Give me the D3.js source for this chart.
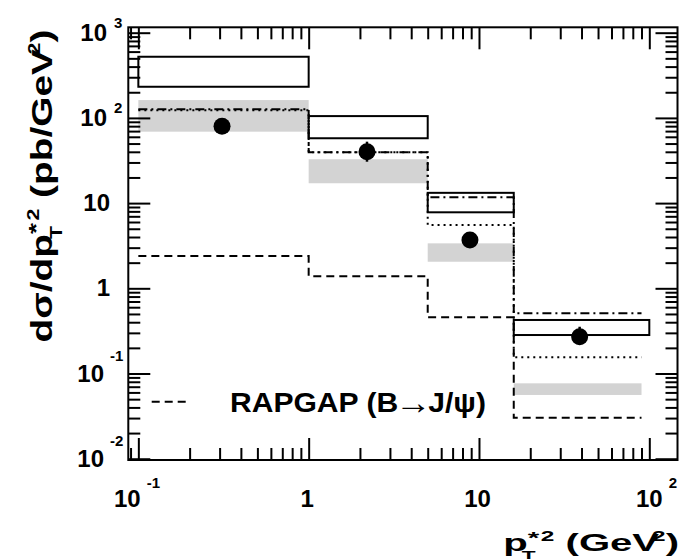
<!DOCTYPE html>
<html>
<head>
<meta charset="utf-8">
<script src="https://cdn.jsdelivr.net/npm/d3@7"></script>
<style>
  body { margin: 0; background: #fff; }
  svg { display: block; background: #fff; }
  text { font-family: "Liberation Sans", Arial, Helvetica, sans-serif; font-weight: bold; fill: #000; }
</style>
</head>
<body>
<svg id="chart" width="683" height="559"></svg>
<script>
// Bin edges in p_T*^2 (GeV^2)
const binEdges = [0.1, 1, 5, 16, 100];
const modelEdges = [0.1, 1, 5, 16, 90];

// Measured cross sections (pb/GeV^2)
const dataX = [0.31, 2.2, 8.85, 39];
const dataY = [80, 40, 3.7, 0.27];
const dataErrUp = [5, 12.6, 0.3, 0.084];
const dataErrDown = [5, 9.4, 0.3, 0.05];

// Open boxes (prediction band)
const boxLow = [232, 57.7, 7.8, 0.283];
const boxHigh = [522, 105, 13.2, 0.425];

// Grey shaded band
const bandLow = [68.9, 17.1, 2.05, 0.056];
const bandHigh = [162, 32.7, 3.37, 0.0767];

// Step-histogram predictions
const dashDotModel = [126, 39.5, 11.7, 0.509];
const dottedModel = [123, 39.5, 5.53, 0.155];
const rapgapB = [2.39, 1.39, 0.457, 0.0303];

// Axis tick labels
const xTickValues = [0.1, 1, 10, 100];
const xTickBase = ["10", "1", "10", "10"];
const xTickExp = ["-1", "", "", "2"];
const yTickValues = [0.01, 0.1, 1, 10, 100, 1000];
const yTickBase = ["10", "10", "1", "10", "10", "10"];
const yTickExp = ["-2", "-1", "", "", "2", "3"];

const legendLabel = ["RAPGAP (B", "\u2192", "J/\u03C8)"];

// ---------------------------------------------------------------
const svg = d3.select("#chart");
const L = 128.3, R = 677.5, T = 27.3, B = 460;

const x = d3.scaleLog().domain([0.0873, 146.4]).range([L, R]);
const y = d3.scaleLog().domain([0.00966, 1157]).range([B, T]);

const bandGrey = "#d3d3d3";

// grey band
svg.append("g").selectAll("rect").data(bandLow).join("rect")
  .attr("x", (d, i) => x(modelEdges[i]))
  .attr("width", (d, i) => x(modelEdges[i + 1]) - x(modelEdges[i]))
  .attr("y", (d, i) => y(bandHigh[i]))
  .attr("height", (d, i) => y(bandLow[i]) - y(bandHigh[i]))
  .attr("fill", bandGrey);

// step histograms
function stepPoints(vals, edges) {
  const pts = vals.map((v, i) => [edges[i], v]);
  pts.push([edges[edges.length - 1], vals[vals.length - 1]]);
  return pts;
}
const stepLine = d3.line().x(d => x(d[0])).y(d => y(d[1])).curve(d3.curveStepAfter);

const models = [
  { vals: rapgapB, dash: "8,5" },
  { vals: dottedModel, dash: "2,4" },
  { vals: dashDotModel, dash: "9,4,2,4" }
];
svg.append("g").selectAll("path").data(models).join("path")
  .attr("d", m => stepLine(stepPoints(m.vals, modelEdges)))
  .attr("fill", "none")
  .attr("stroke", "#000")
  .attr("stroke-width", 2)
  .attr("stroke-dasharray", m => m.dash);

// open boxes
svg.append("g").selectAll("rect").data(boxLow).join("rect")
  .attr("x", (d, i) => x(binEdges[i]))
  .attr("width", (d, i) => x(binEdges[i + 1]) - x(binEdges[i]))
  .attr("y", (d, i) => y(boxHigh[i]))
  .attr("height", (d, i) => y(boxLow[i]) - y(boxHigh[i]))
  .attr("fill", "none")
  .attr("stroke", "#000")
  .attr("stroke-width", 2);

// data points with error bars
const pts = svg.append("g");
pts.selectAll("line").data(dataY).join("line")
  .attr("x1", (d, i) => x(dataX[i])).attr("x2", (d, i) => x(dataX[i]))
  .attr("y1", (d, i) => y(d + dataErrUp[i]))
  .attr("y2", (d, i) => y(d - dataErrDown[i]))
  .attr("stroke", "#000").attr("stroke-width", 2.5);
pts.selectAll("circle").data(dataY).join("circle")
  .attr("cx", (d, i) => x(dataX[i]))
  .attr("cy", d => y(d))
  .attr("r", 8.5)
  .attr("fill", "#000");

// ---------------- axes (ticks inside the frame on all sides) ----------------
function logTicks(domain, major) {
  const out = [];
  const lo = Math.floor(Math.log10(domain[0])), hi = Math.ceil(Math.log10(domain[1]));
  for (let k = lo; k <= hi; k++) {
    for (let m = 1; m <= 9; m++) {
      const v = m * Math.pow(10, k);
      if (v >= domain[0] && v <= domain[1] && ((m === 1) === major)) out.push(v);
    }
  }
  return out;
}
const MAJ = 22, MIN = 12;
function drawAxis(axisFn, scale, transform) {
  [true, false].forEach(isMajor => {
    const g = svg.append("g").attr("transform", transform)
      .call(axisFn(scale)
        .tickValues(logTicks(scale.domain(), isMajor))
        .tickSizeInner(-(isMajor ? MAJ : MIN))
        .tickSizeOuter(0)
        .tickFormat(""));
    g.select(".domain").remove();
    g.selectAll("line").attr("stroke", "#000").attr("stroke-width", 2);
  });
}
drawAxis(d3.axisBottom, x, `translate(0,${B})`);
drawAxis(d3.axisTop, x, `translate(0,${T})`);
drawAxis(d3.axisLeft, y, `translate(${L},0)`);
drawAxis(d3.axisRight, y, `translate(${R},0)`);

// frame
svg.append("rect")
  .attr("x", L).attr("y", T).attr("width", R - L).attr("height", B - T)
  .attr("fill", "none").attr("stroke", "#000").attr("stroke-width", 2);

// x tick labels
const BASE_FS = 24, EXP_FS = 15;
xTickValues.forEach((v, i) => {
  const neg = xTickExp[i].startsWith("-");
  const cx = x(v) + (neg ? -11 : (xTickExp[i] ? 0 : -1.5));
  const t = svg.append("text")
    .attr("x", cx).attr("y", 507)
    .attr("text-anchor", "middle")
    .attr("font-size", BASE_FS)
    .text(xTickBase[i]);
  if (xTickExp[i]) {
    const w = t.node().getComputedTextLength();
    svg.append("text")
      .attr("x", cx + w / 2 + 6).attr("y", 488)
      .attr("font-size", EXP_FS)
      .text(xTickExp[i]);
  }
});

// y tick labels
yTickValues.forEach((v, i) => {
  const ty = y(v);
  const exp = yTickExp[i];
  const neg = exp.startsWith("-");
  const baseRight = exp ? (neg ? 104 : 107) : 110;
  svg.append("text")
    .attr("x", baseRight).attr("y", ty + 8)
    .attr("text-anchor", "end")
    .attr("font-size", BASE_FS)
    .text(yTickBase[i]);
  if (exp) {
    svg.append("text")
      .attr("x", baseRight + (neg ? 6 : 7)).attr("y", ty + (neg ? -13 : -5))
      .attr("font-size", EXP_FS)
      .text(exp);
  }
});

// x axis title: p_T*^2 (GeV^2)
const xtG = svg.append("g");
const xt = xtG.append("text")
  .attr("text-anchor", "end")
  .attr("font-size", 23);
xt.append("tspan").text("p");
xt.append("tspan").attr("dy", -7).attr("font-size", 17).text("*");
xt.append("tspan").attr("dx", -10).attr("dy", 16).attr("font-size", 13).text("T");
xt.append("tspan").attr("dx", 3).attr("dy", -19).attr("font-size", 14).text("2");
xt.append("tspan").attr("dy", 10).text(" (GeV");
xt.append("tspan").attr("dx", -4).attr("dy", -10).attr("font-size", 14).text("2");
xt.append("tspan").attr("dy", 10).text(")");
{
  const w = xt.node().getBBox().width;
  xtG.attr("transform", `translate(679,551) scale(${176 / w},1)`);
}

// y axis title: dsigma/dp_T*^2 (pb/GeV^2)
const ytG = svg.append("g");
const yt = ytG.append("text")
  .attr("text-anchor", "middle")
  .attr("font-size", 29);
yt.append("tspan").text("d\u03C3/dp");
yt.append("tspan").attr("dy", -9).attr("font-size", 21).text("*");
yt.append("tspan").attr("dx", -12).attr("dy", 19).attr("font-size", 16).text("T");
yt.append("tspan").attr("dx", 4).attr("dy", -23).attr("font-size", 16).text("2");
yt.append("tspan").attr("dy", 13).text(" (pb/GeV");
yt.append("tspan").attr("dx", -4).attr("dy", -12).attr("font-size", 16).text("2");
yt.append("tspan").attr("dy", 12).text(")");
{
  const w = yt.node().getBBox().width;
  ytG.attr("transform", `translate(52,186) rotate(-90) scale(${313 / w},1)`);
}

// legend
svg.append("line")
  .attr("x1", 151.7).attr("x2", 188.3)
  .attr("y1", 401.7).attr("y2", 401.7)
  .attr("stroke", "#000").attr("stroke-width", 2)
  .attr("stroke-dasharray", "8,5");
const lgG = svg.append("g");
const lg = lgG.append("text").attr("font-size", 28);
lg.append("tspan").text(legendLabel[0]);
lg.append("tspan").attr("font-size", 34).attr("dx", -3).attr("dy", 2).text(legendLabel[1]);
lg.append("tspan").attr("dx", -3).attr("dy", -2).text(legendLabel[2]);
{
  const w = lg.node().getBBox().width;
  lgG.attr("transform", `translate(230,411.7) scale(${256 / w},1)`);
}
</script>
</body>
</html>
